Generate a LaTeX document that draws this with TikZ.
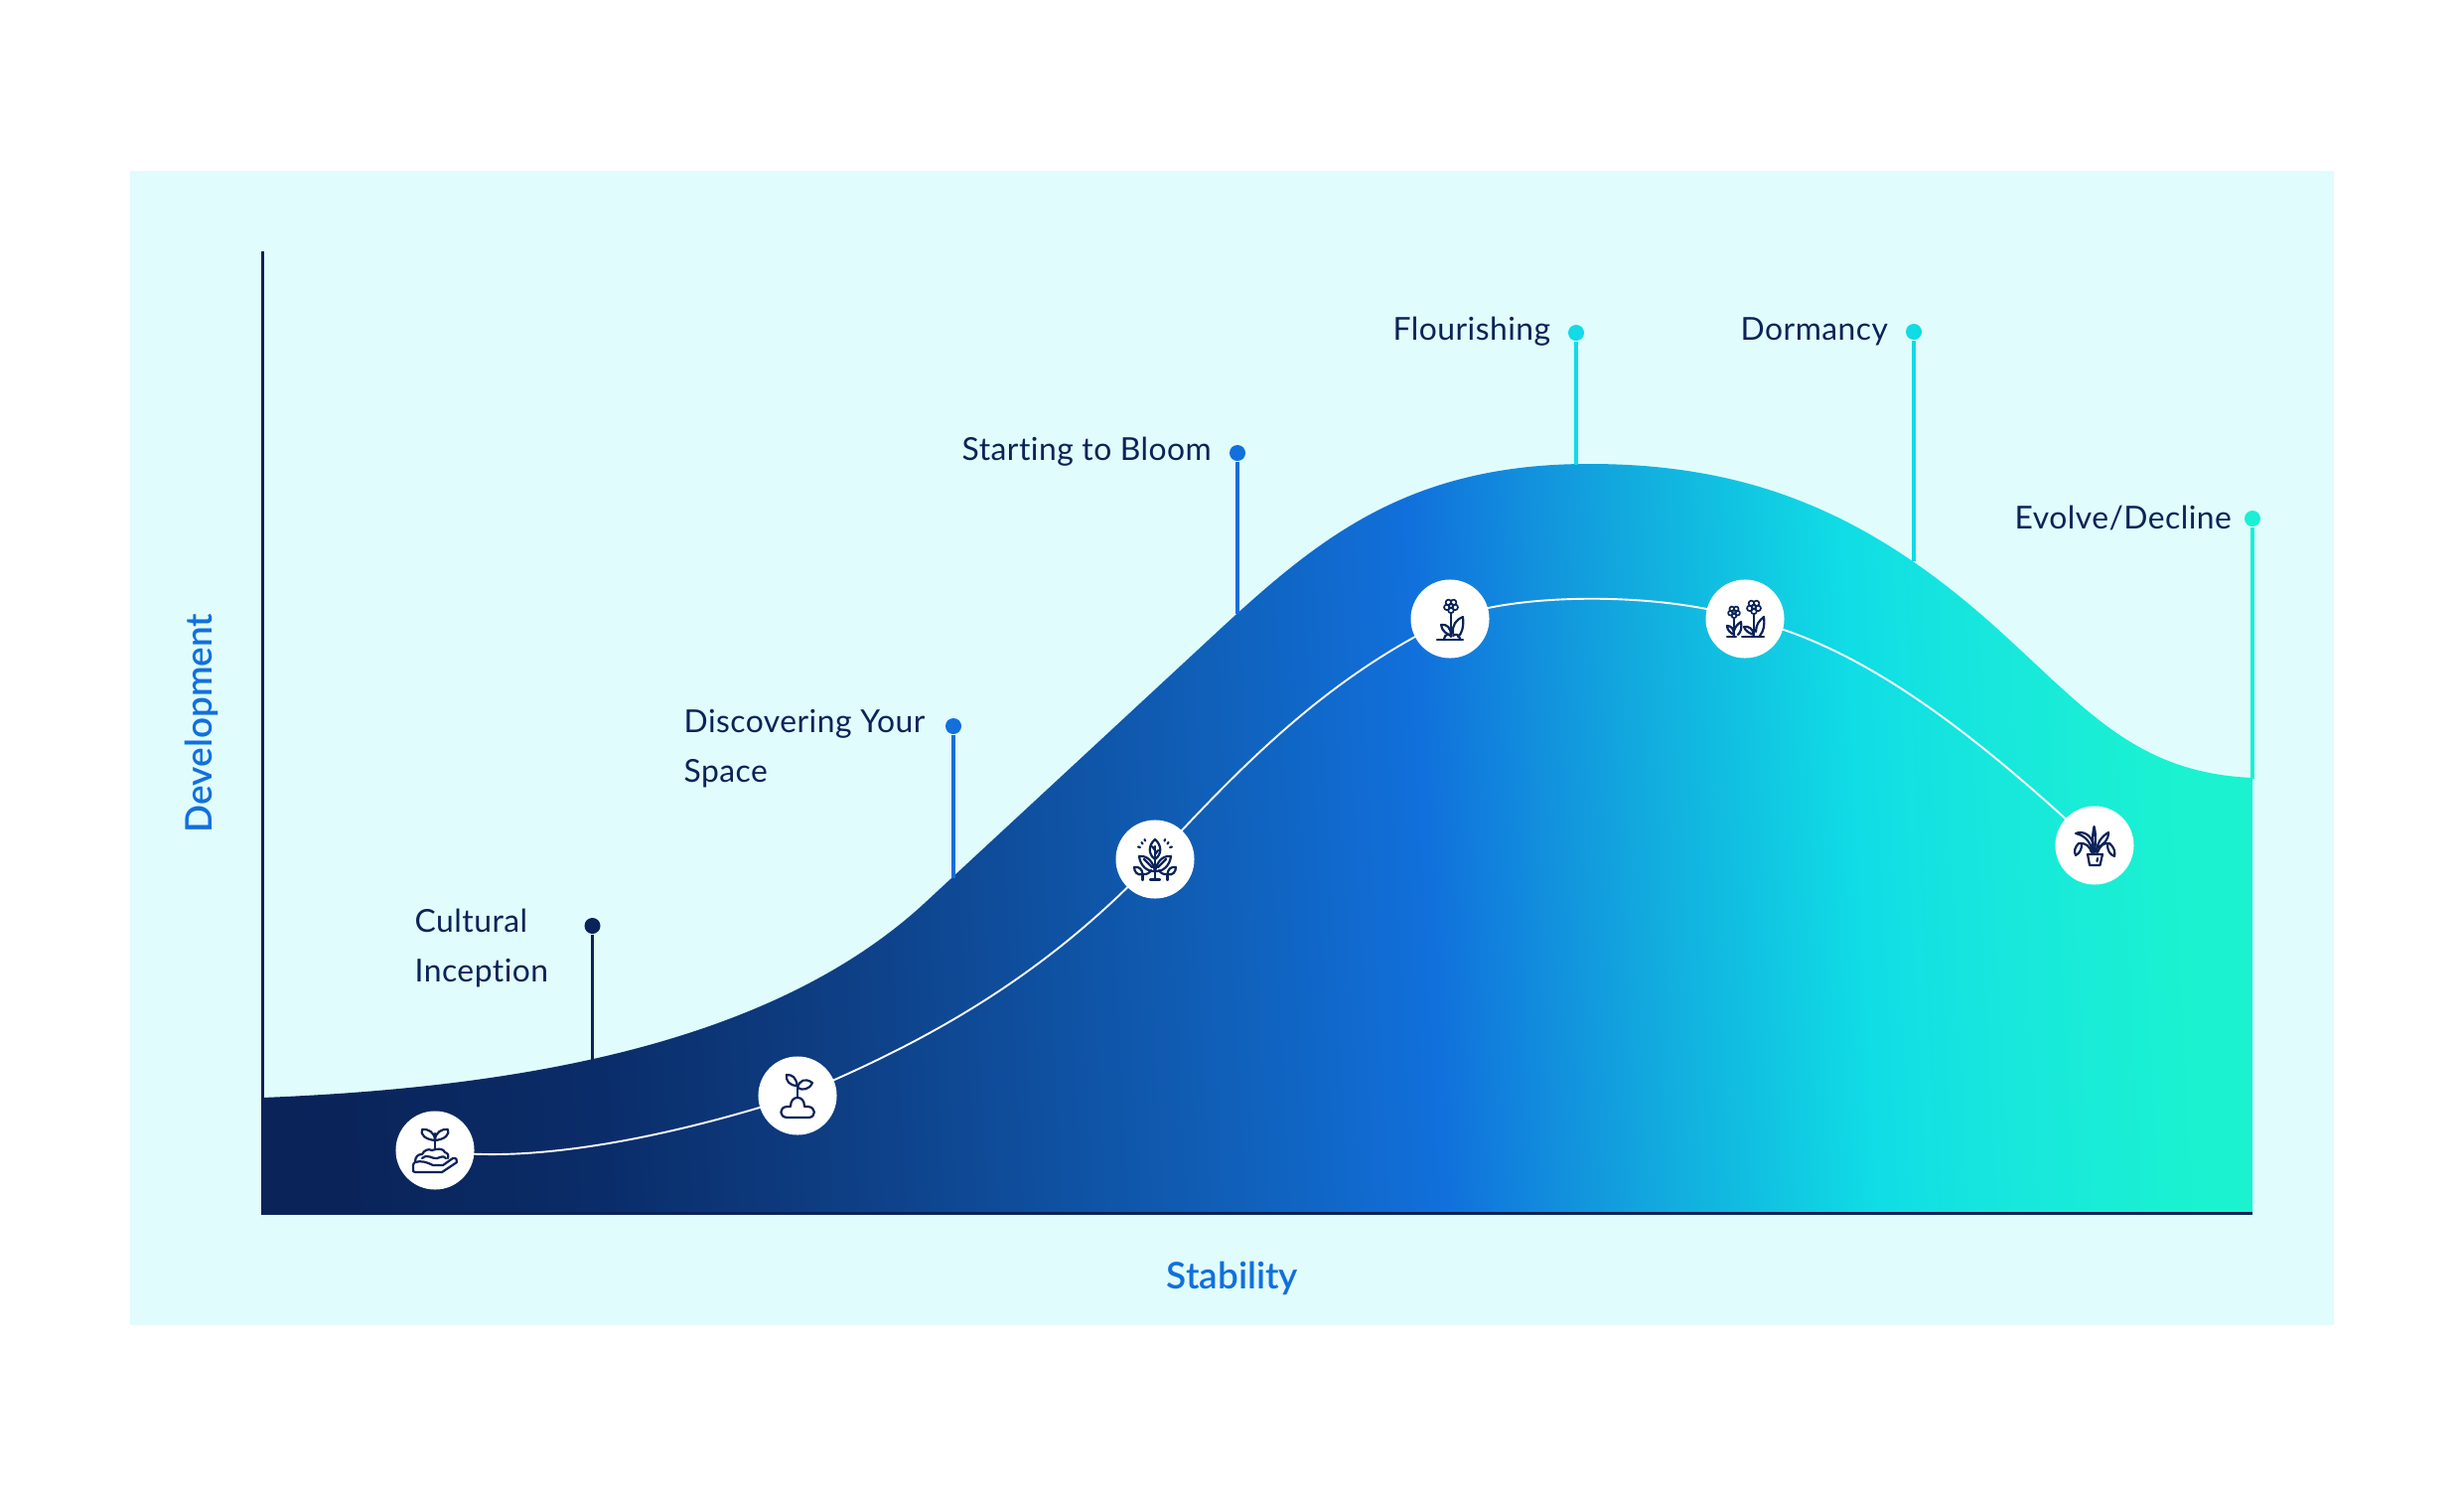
\documentclass[tikz,border=0pt]{standalone}
\usepackage{fontspec}
\setmainfont{Lato}[LetterSpace=1.5,Ligatures=NoCommon]
\newfontfamily\axfont{Lato Semibold}
\definecolor{panelbg}{HTML}{E0FCFC}
\definecolor{navy}{HTML}{0A2358}
\definecolor{midblue}{HTML}{1170DC}
\definecolor{cyanmark}{HTML}{10DBE6}
\definecolor{tealmark}{HTML}{1AF0D4}
\definecolor{gA}{HTML}{0A2358}
\definecolor{gB}{HTML}{0A2C68}
\definecolor{gC}{HTML}{0E3F85}
\definecolor{gD}{HTML}{1062BD}
\definecolor{gE}{HTML}{1170DC}
\definecolor{gF}{HTML}{12A8DE}
\definecolor{gG}{HTML}{10DDE5}
\definecolor{gH}{HTML}{18E8DC}
\definecolor{gI}{HTML}{1AF2D0}
\pgfdeclarehorizontalshading{curvegrad}{100bp}{
  color(0bp)=(gA); color(25bp)=(gA); color(32.3bp)=(gB); color(39bp)=(gC);
  color(49.65bp)=(gD); color(54.4bp)=(gE); color(59.8bp)=(gF); color(65.6bp)=(gG);
  color(69.6bp)=(gH); color(74bp)=(gI); color(100bp)=(gI)}
\tikzset{
  x=0.01cm,y=-0.01cm,
  iconline/.style={draw=navy,line width=2.2*0.2845pt,line cap=round,line join=round,fill=none},
  disc/.style={circle,fill=white,draw=none,minimum size=0.79cm,inner sep=0pt},
  markdot/.style={circle,minimum size=0.16cm,inner sep=0pt,fill=#1},
  markline/.style={draw=#1,line width=3.3*0.2845pt},
  lab/.style={anchor=base west,inner sep=0pt,text=navy,font=\fontsize{9.05pt}{11pt}\selectfont},
  axlab/.style={inner sep=0pt,text=midblue,font=\fontsize{10.5pt}{12pt}\selectfont\axfont},
  growth/.style={draw=white,line width=1.9*0.2845pt},
  pics/flower/.style={code={
    \draw[iconline,line width=1.7*0.2845pt] (0,0) circle (2.4);
    \foreach \a in {90,162,234,306,18}{\draw[iconline,line width=1.7*0.2845pt] (\a:4.4) circle (2.8);}
  }},
  pics/iconA/.style={code={
    \draw[iconline] (0,-1) -- (0,-17);
    \draw[iconline] (0,-10) .. controls (-10,-11) and (-15,-16) .. (-13,-21) .. controls (-7,-22) and (0,-18) .. (0,-10);
    \draw[iconline] (0,-10) .. controls (10,-11) and (15,-16) .. (13,-21) .. controls (7,-22) and (0,-18) .. (0,-10);
    \draw[iconline] (-20,12) .. controls (-20,6) and (-17,4) .. (-13,4) .. controls (-11,0) and (-7,-2) .. (-3,0) .. controls (2,-2) and (9,-2) .. (10,2) .. controls (13,3) and (14,5) .. (13,8);
    \draw[iconline] (-13,8) .. controls (-7,3) and (-3,9) .. (2,8) .. controls (6,7) and (8,5) .. (11,8);
    \draw[iconline] (-2,15) -- (8,15) -- (18,8) .. controls (21,7) and (23,10) .. (22,12) -- (7,22) -- (-20,22) .. controls (-22,22) and (-22,21) .. (-22,19) -- (-22,15) .. controls (-22,13) and (-21,13) .. (-20,12) .. controls (-14,10) and (-8,12) .. (-2,15);
  }},
  pics/iconB/.style={code={
    \draw[iconline] (0,2) -- (0,-10);
    \draw[iconline] (0,-10) .. controls (-2,-19) and (-5,-21) .. (-11,-21) .. controls (-12,-15) and (-8,-10) .. (0,-10);
    \draw[iconline] (0,-8) .. controls (2,-16) and (8,-18) .. (15,-13) .. controls (12,-6) and (5,-5) .. (0,-8);
    \draw[iconline] (-10,22) -- (11,22) .. controls (19,22) and (19,11) .. (10,11) -- (7,11) .. controls (7,5) and (4,2) .. (0,2) .. controls (-4,2) and (-7,5) .. (-7,11) -- (-10,11) .. controls (-19,11) and (-19,22) .. (-10,22) -- cycle;
  }},
  pics/iconC/.style={code={
    \draw[iconline] (0,-20) .. controls (-7,-14) and (-7,-5) .. (0,0) .. controls (7,-5) and (7,-14) .. (0,-20) -- cycle;
    \draw[iconline] (0,-13) -- (0,20.5);
    \draw[iconline] (0,-9) -- (-3,-13) (0,-5) -- (3,-9);
    \draw[iconline] (-5,20.5) -- (5,20.5);
    \draw[iconline] (0,12) .. controls (-8,13) and (-15,6) .. (-16,-3) .. controls (-7,-4) and (-2,3) .. (0,12);
    \draw[iconline] (0,12) .. controls (8,13) and (15,6) .. (16,-3) .. controls (7,-4) and (2,3) .. (0,12);
    \draw[iconline] (-11,0) -- (-3,8) (11,0) -- (3,8);
    \draw[iconline] (-12.5,15) .. controls (-18,17) and (-21,12) .. (-21,8) .. controls (-16,7) and (-13,10) .. (-12.5,15);
    \draw[iconline] (-12.5,15) .. controls (-8,16) and (-5,13) .. (-4,11);
    \draw[iconline] (12.5,15) .. controls (18,17) and (21,12) .. (21,8) .. controls (16,7) and (13,10) .. (12.5,15);
    \draw[iconline] (12.5,15) .. controls (8,16) and (5,13) .. (4,11);
    \draw[iconline] (-12.5,15) -- (-12.5,21) (12.5,15) -- (12.5,21);
    \draw[iconline] (-17,-12.5) -- (-15,-12) (-13.5,-17) -- (-12.5,-15.5) (-10.5,-20) -- (-10,-18.5);
    \draw[iconline] (17,-12.5) -- (15,-12) (13.5,-17) -- (12.5,-15.5) (10,-20) -- (9.5,-18.5);
  }},
  pics/iconD/.style={code={
    \pic at (1,-13) {flower};
    \draw[iconline] (1,-5) -- (1,18);
    \draw[iconline] (-13,21) -- (13,21);
    \draw[iconline] (1,17) .. controls (-3,15) and (-8,13) .. (-9,6) .. controls (-3,5) and (1,9) .. (1,17);
    \draw[iconline] (3,15) .. controls (2,6) and (6,1) .. (13,-2) .. controls (14,8) and (12,15) .. (8,18);
    \draw[iconline] (-6,20) .. controls (-5,15) and (-1,15) .. (1,17) (3,17) .. controls (5,15) and (9,15) .. (10,20);
  }},
  pics/iconE/.style={code={
    \pic[scale=.85] at (-11,-7) {flower};
    \pic at (9,-12) {flower};
    \draw[iconline] (-11,0) -- (-11,18);
    \draw[iconline] (9,-4) -- (9,18);
    \draw[iconline] (-18,18) -- (-9,18) (-3,18) -- (19,18);
    \draw[iconline] (-11,16) .. controls (-15,14) and (-18,11) .. (-18,7) .. controls (-14,7) and (-11,10) .. (-11,16);
    \draw[iconline] (-11,12) .. controls (-10,8) and (-7,5) .. (-4,3) .. controls (-3,9) and (-4,13) .. (-7,16);
    \draw[iconline] (9,16) .. controls (5,15) and (0,12) .. (-1,8) .. controls (4,7) and (8,10) .. (9,16);
    \draw[iconline] (11,13) .. controls (11,6) and (14,2) .. (19,-2) .. controls (20,6) and (19,12) .. (15,17);
  }},
  pics/iconF/.style={code={
    \draw[iconline] (-7,9) -- (8,9) -- (5.5,20) -- (-5,20) -- cycle;
    \draw[iconline] (3,13) -- (2.5,16);
    \draw[iconline] (-1,7) .. controls (-3,0) and (-2,-12) .. (-0.5,-19) .. controls (1.5,-13) and (1,-1) .. (0,7);
    \draw[iconline] (-2,7) .. controls (-4,-4) and (-10,-10) .. (-19,-12) .. controls (-12,-15) and (-3,-11) .. (-1,0);
    \draw[iconline] (2,7) .. controls (2,-2) and (7,-9) .. (14,-13) .. controls (14,-5) and (9,-1) .. (2,3);
    \draw[iconline] (-3,7) .. controls (-5,1) and (-9,-3) .. (-16,-2) .. controls (-20,2) and (-21,6) .. (-19,10) .. controls (-15,8) and (-13,4) .. (-13,-1);
    \draw[iconline] (3,7) .. controls (5,1) and (9,-3) .. (15,-2) .. controls (20,2) and (21,7) .. (20,11) .. controls (15,9) and (13,5) .. (13,-1);
  }},
}
\begin{document}
\begin{tikzpicture}
\useasboundingbox (0,0) rectangle (2481,1506);
\fill[white] (0,0) rectangle (2481,1506);
\fill[panelbg] (131,172) rectangle (2350,1334);
% curve body
\shade[shading=curvegrad,shading angle=3]
  (264,1105) .. controls (520,1095) and (775,1052) .. (930,910)
  -- (1230,632) .. controls (1330,540) and (1420,467) .. (1600,467)
  .. controls (1760,467) and (1880,515) .. (2010,632)
  .. controls (2100,713) and (2150,778) .. (2268,783)
  -- (2268,1221) -- (264,1221) -- cycle;
% axes
\coordinate (axtop) at (264,253);
\coordinate (axorigin) at (264,1221);
\coordinate (axright) at (2268,1221);
\draw[navy,line width=3*0.2845pt] (axtop) -- (axorigin) -- (axright);
% stage markers
\node[markdot=navy] (d1) at (596.5,932) {};
\node[markdot=midblue] (d2) at (960,731) {};
\node[markdot=midblue] (d3) at (1246,456) {};
\node[markdot=cyanmark] (d4) at (1587,335) {};
\node[markdot=cyanmark] (d5) at (1927,334) {};
\node[markdot=tealmark] (d6) at (2268,522) {};
\coordinate (e1) at (596.5,1067);
\coordinate (e2) at (960,884);
\coordinate (e3) at (1246,618);
\coordinate (e4) at (1587,468);
\coordinate (e5) at (1927,565);
\coordinate (e6) at (2268,784);
\draw[markline=navy] (d1) -- (e1);
\draw[markline=midblue] (d2) -- (e2);
\draw[markline=midblue] (d3) -- (e3);
\draw[markline=cyanmark] (d4) -- (e4);
\draw[markline=cyanmark] (d5) -- (e5);
\draw[markline=tealmark] (d6) -- (e6);
% discs
\coordinate (p1) at (438,1158);
\coordinate (p2) at (803,1103);
\coordinate (p3) at (1163,865);
\coordinate (p4) at (1460,623);
\coordinate (p5) at (1757,623);
\coordinate (p6) at (2109,851);
\draw[growth] (p1) .. controls (540,1174) and (690,1140) .. (p2);
\draw[growth] (p2) .. controls (930,1050) and (1050,985) .. (p3);
\draw[growth] (p3) .. controls (1255,765) and (1340,680) .. (p4);
\draw[growth] (p4) .. controls (1530,595) and (1680,597) .. (p5);
\draw[growth] (p5) .. controls (1880,650) and (2000,750) .. (p6);
\node[disc] (c1) at (p1) {};
\node[disc] (c2) at (p2) {};
\node[disc] (c3) at (p3) {};
\node[disc] (c4) at (p4) {};
\node[disc] (c5) at (p5) {};
\node[disc] (c6) at (p6) {};
\pic at (c1) {iconA};
\pic at (c2) {iconB};
\pic at (c3) {iconC};
\pic at (c4) {iconD};
\pic at (c5) {iconE};
\pic at (c6) {iconF};
% labels
\node[lab] (t1a) at (417,938) {Cultural};
\node[lab] (t1b) at (417,988) {Inception};
\node[lab] (t2a) at (688,737) {Discovering Your};
\node[lab] (t2b) at (688,787) {Space};
\node[lab] (t3) at (968,463) {Starting to Bloom};
\node[lab] (t4) at (1402,342) {Flourishing};
\node[lab] (t5) at (1752,342) {Dormancy};
\node[lab] (t6) at (2028,532) {Evolve/Decline};
\node[axlab,anchor=base,rotate=90] (ydev) at (213,728) {Development};
\node[axlab,anchor=base] (xsta) at (1241,1297) {Stability};
\end{tikzpicture}
\end{document}
